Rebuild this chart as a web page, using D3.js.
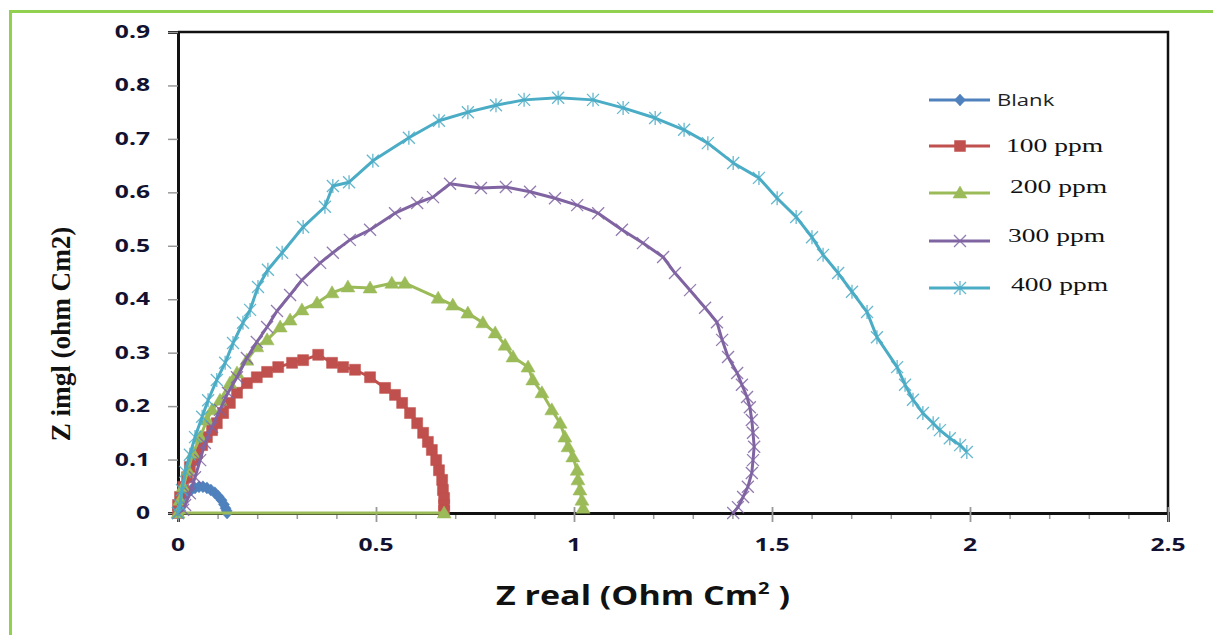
<!DOCTYPE html>
<html><head><meta charset="utf-8">
<script src="https://cdn.jsdelivr.net/npm/d3@7"></script>
<style>body{margin:0;background:#fff}svg{display:block}</style>
</head><body>
<svg id="c" width="1213" height="635"></svg>
<script>
// ---------- data ----------
const seriesNames = ["Blank", "100 ppm", "200 ppm", "300 ppm", "400 ppm"];
const xTickValues = [0, 0.5, 1, 1.5, 2, 2.5];
const xTickLabels = ["0", "0.5", "1", "1.5", "2", "2.5"];
const yTickValues = [0, 0.1, 0.2, 0.3, 0.4, 0.5, 0.6, 0.7, 0.8, 0.9];
const yTickLabels = ["0", "0.1", "0.2", "0.3", "0.4", "0.5", "0.6", "0.7", "0.8", "0.9"];

const blankZr = [0, 0.005, 0.01, 0.016, 0.024, 0.033, 0.043, 0.053, 0.063, 0.073, 0.083, 0.093, 0.102, 0.11, 0.116, 0.12, 0.123, 0.124];
const blankZi = [0, 0.01, 0.02, 0.029, 0.037, 0.043, 0.047, 0.049, 0.049, 0.047, 0.043, 0.038, 0.031, 0.024, 0.016, 0.009, 0.004, 0.0];

const ppm100Zr = [0, 0.0, 0.005, 0.013, 0.023, 0.030, 0.040, 0.048, 0.061, 0.073, 0.086, 0.098, 0.114, 0.131, 0.149, 0.174, 0.199, 0.225, 0.253, 0.288, 0.316, 0.354, 0.389, 0.417, 0.447, 0.485, 0.523, 0.548, 0.566, 0.586, 0.604, 0.619, 0.631, 0.641, 0.652, 0.659, 0.667, 0.669, 0.672, 0.672, 0.672];
const ppm100Zi = [0, 0.015, 0.030, 0.049, 0.067, 0.086, 0.099, 0.112, 0.127, 0.142, 0.155, 0.168, 0.187, 0.206, 0.225, 0.243, 0.254, 0.264, 0.273, 0.281, 0.286, 0.296, 0.281, 0.273, 0.268, 0.254, 0.234, 0.221, 0.206, 0.187, 0.168, 0.150, 0.133, 0.118, 0.099, 0.080, 0.062, 0.043, 0.028, 0.015, 0.004];

const ppm200Zr = [0.672, 0, 0.005, 0.013, 0.025, 0.038, 0.056, 0.073, 0.086, 0.106, 0.131, 0.149, 0.174, 0.199, 0.225, 0.258, 0.283, 0.313, 0.351, 0.389, 0.429, 0.485, 0.540, 0.573, 0.657, 0.694, 0.732, 0.770, 0.801, 0.826, 0.846, 0.884, 0.896, 0.919, 0.944, 0.965, 0.977, 0.985, 0.997, 1.008, 1.010, 1.015, 1.020, 1.023];
const ppm200Zi = [0, 0, 0.024, 0.049, 0.080, 0.112, 0.142, 0.174, 0.193, 0.211, 0.243, 0.262, 0.286, 0.311, 0.324, 0.348, 0.361, 0.380, 0.393, 0.412, 0.423, 0.421, 0.430, 0.430, 0.402, 0.389, 0.374, 0.356, 0.337, 0.314, 0.292, 0.273, 0.249, 0.225, 0.193, 0.168, 0.142, 0.124, 0.105, 0.080, 0.062, 0.043, 0.024, 0.009];

const ppm300Zr = [0, 0.013, 0.018, 0.030, 0.043, 0.056, 0.068, 0.086, 0.106, 0.126, 0.149, 0.174, 0.199, 0.225, 0.250, 0.283, 0.313, 0.359, 0.391, 0.434, 0.485, 0.548, 0.604, 0.644, 0.687, 0.765, 0.828, 0.889, 0.952, 1.008, 1.061, 1.121, 1.174, 1.225, 1.255, 1.293, 1.331, 1.361, 1.374, 1.389, 1.412, 1.424, 1.437, 1.444, 1.449, 1.452, 1.455, 1.452, 1.449, 1.439, 1.427, 1.414, 1.402];
const ppm300Zi = [0, 0.006, 0.015, 0.037, 0.067, 0.099, 0.131, 0.161, 0.193, 0.225, 0.254, 0.290, 0.320, 0.348, 0.378, 0.408, 0.436, 0.468, 0.487, 0.511, 0.530, 0.561, 0.580, 0.591, 0.616, 0.608, 0.610, 0.601, 0.589, 0.576, 0.561, 0.530, 0.505, 0.479, 0.449, 0.417, 0.384, 0.357, 0.324, 0.292, 0.262, 0.240, 0.217, 0.198, 0.174, 0.150, 0.124, 0.099, 0.075, 0.049, 0.030, 0.011, 0.0];

const ppm400Zr = [0, 0.005, 0.010, 0.018, 0.030, 0.043, 0.061, 0.076, 0.098, 0.119, 0.139, 0.164, 0.182, 0.202, 0.227, 0.263, 0.316, 0.371, 0.391, 0.432, 0.492, 0.583, 0.659, 0.732, 0.803, 0.874, 0.960, 1.048, 1.124, 1.205, 1.278, 1.338, 1.402, 1.467, 1.513, 1.561, 1.601, 1.629, 1.667, 1.702, 1.740, 1.765, 1.816, 1.836, 1.856, 1.881, 1.907, 1.924, 1.949, 1.975, 1.992];
const ppm400Zi = [0, 0.015, 0.043, 0.077, 0.109, 0.142, 0.180, 0.211, 0.249, 0.281, 0.318, 0.356, 0.380, 0.423, 0.455, 0.487, 0.535, 0.573, 0.612, 0.619, 0.659, 0.702, 0.734, 0.750, 0.763, 0.773, 0.777, 0.773, 0.758, 0.739, 0.717, 0.692, 0.655, 0.627, 0.589, 0.554, 0.516, 0.483, 0.449, 0.414, 0.376, 0.329, 0.273, 0.240, 0.212, 0.187, 0.168, 0.155, 0.140, 0.127, 0.114];

const seriesColors = ["#4F81BD", "#C0504D", "#9BBB59", "#8064A2", "#4BACC6"];
const seriesMarkers = ["diamond", "square", "triangle", "cross", "asterisk"];

// ---------- build ----------
const series = [
  [blankZr, blankZi], [ppm100Zr, ppm100Zi], [ppm200Zr, ppm200Zi], [ppm300Zr, ppm300Zi], [ppm400Zr, ppm400Zi]
].map((p, i) => ({
  name: seriesNames[i], color: seriesColors[i], marker: seriesMarkers[i],
  pts: p[0].map((v, j) => [v, p[1][j]])
}));

const svg = d3.select("#c");
const W = 1213, H = 635;
const plot = {l: 178, t: 32, r: 1168, b: 513};
const x = d3.scaleLinear().domain([0, 2.5]).range([plot.l, plot.r]);
const y = d3.scaleLinear().domain([0, 0.9]).range([plot.b, plot.t]);

// outer green frame
svg.append("rect").attr("x", 10.5).attr("y", 11.5).attr("width", W + 20).attr("height", H + 20)
  .attr("fill", "none").attr("stroke", "#92D050").attr("stroke-width", 3);

function stretchText(g, str, px, py, anchor, sx, opts) {
  const t = g.append("text").attr("text-anchor", anchor)
    .attr("font-family", opts.family).attr("font-size", opts.size)
    .attr("font-weight", opts.weight || "normal").attr("fill", opts.fill || "#111")
    .attr("transform", `translate(${px},${py}) scale(${sx},1)`);
  t.text(str);
  return t;
}

// plot frame (top & right)
svg.append("path")
  .attr("d", `M${plot.l},${plot.t} H${plot.r} V${plot.b}`)
  .attr("fill", "none").attr("stroke", "#111").attr("stroke-width", 2.5);

// y axis
const yAxis = d3.axisLeft(y).tickValues(yTickValues).tickSize(10).tickFormat("");
const yg = svg.append("g").attr("transform", `translate(${plot.l},0)`).call(yAxis);
yg.select(".domain").attr("stroke", "#111").attr("stroke-width", 3);
yg.selectAll(".tick line").attr("stroke", "#999").attr("stroke-width", 1.5);

// x axis: major + minor ticks
const minorTicks = d3.range(0, 26).map(d => d / 10).filter(v => Math.abs(v * 2 - Math.round(v * 2)) > 1e-6);
const xMinor = d3.axisBottom(x).tickValues(minorTicks).tickSize(6).tickFormat("");
const xmg = svg.append("g").attr("transform", `translate(0,${plot.b})`).call(xMinor);
xmg.select(".domain").remove();
xmg.selectAll(".tick line").attr("stroke", "#999").attr("stroke-width", 1.5);
const xAxis = d3.axisBottom(x).tickValues(xTickValues).tickSize(9).tickFormat("");
const xg = svg.append("g").attr("transform", `translate(0,${plot.b})`).call(xAxis);
xg.select(".domain").attr("stroke", "#111").attr("stroke-width", 3);
xg.selectAll(".tick line").attr("stroke", "#999").attr("stroke-width", 1.8).attr("y1", -6);

// tick labels
const tickFont = {family: "'Open Sans', sans-serif", size: 17, weight: "bold", fill: "#121230"};
const labG = svg.append("g");
xTickValues.forEach((v, i) => stretchText(labG, xTickLabels[i], x(v), plot.b + 38, "middle", 1.45, tickFont));
yTickValues.forEach((v, i) => stretchText(labG, yTickLabels[i], 150, y(v) + 6, "end", 1.45, tickFont));

// axis titles
const xt = svg.append("text").attr("font-family", "'Open Sans', sans-serif").attr("font-size", 27)
  .attr("font-weight", "bold").attr("fill", "#111").attr("text-anchor", "middle")
  .attr("transform", `translate(643,605) scale(1.26,1)`);
xt.append("tspan").text("Z real (Ohm Cm");
xt.append("tspan").text("2").attr("font-size", 16).attr("dy", -11);
xt.append("tspan").text(" )").attr("dy", 11);

svg.append("text").attr("font-family", "'Liberation Serif', serif").attr("font-size", 23)
  .attr("font-weight", "bold").attr("fill", "#111").attr("text-anchor", "middle")
  .attr("transform", `translate(70,334) rotate(-90) scale(1.18,1.15)`)
  .text("Z imgl (ohm Cm2)");

// markers
function markerPath(type) {
  switch (type) {
    case "diamond": return "M0,-6L5.5,0L0,6L-5.5,0Z";
    case "square": return "M-5.5,-5.5H5.5V5.5H-5.5Z";
    case "triangle": return "M0,-7L7,5H-7Z";
    case "cross": return "M-6,-6L6,6M-6,6L6,-6";
    case "asterisk": return "M-6,-6L6,6M-6,6L6,-6M0,-7V7";
  }
}
function drawMarker(g, type, color, px, py) {
  const filled = (type === "diamond" || type === "square" || type === "triangle");
  g.append("path").attr("d", markerPath(type)).attr("transform", `translate(${px},${py})`)
    .attr("fill", filled ? color : "none").attr("stroke", color)
    .attr("stroke-width", filled ? 0.5 : 1.3).attr("opacity", filled ? 1 : 0.85);
}

const line = d3.line().x(d => x(d[0])).y(d => y(d[1]));
const dataG = svg.append("g");
series.forEach(s => {
  const g = dataG.append("g");
  g.append("path").datum(s.pts).attr("d", line).attr("fill", "none")
    .attr("stroke", s.color).attr("stroke-width", 3).attr("stroke-linejoin", "round");
  s.pts.forEach(p => drawMarker(g, s.marker, s.color, x(p[0]), y(p[1])));
});

// legend
const legRows = [100, 146, 193, 241, 288];
const legTextY = [106, 152, 193, 242, 291];
const legTextX = [997, 1006, 1010, 1008, 1011];
const lg = svg.append("g");
series.forEach((s, i) => {
  lg.append("line").attr("x1", 929).attr("x2", 990).attr("y1", legRows[i]).attr("y2", legRows[i])
    .attr("stroke", s.color).attr("stroke-width", 3);
  drawMarker(lg, s.marker, s.color, 960, legRows[i]);
  const f = i === 0 ? {family: "'Open Sans', sans-serif", size: 17, fill: "#222"}
                    : {family: "'Liberation Serif', serif", size: 19, fill: "#111"};
  stretchText(lg, s.name, legTextX[i], legTextY[i], "start", i === 0 ? 1.3 : 1.45, f);
});
</script>
</body></html>
